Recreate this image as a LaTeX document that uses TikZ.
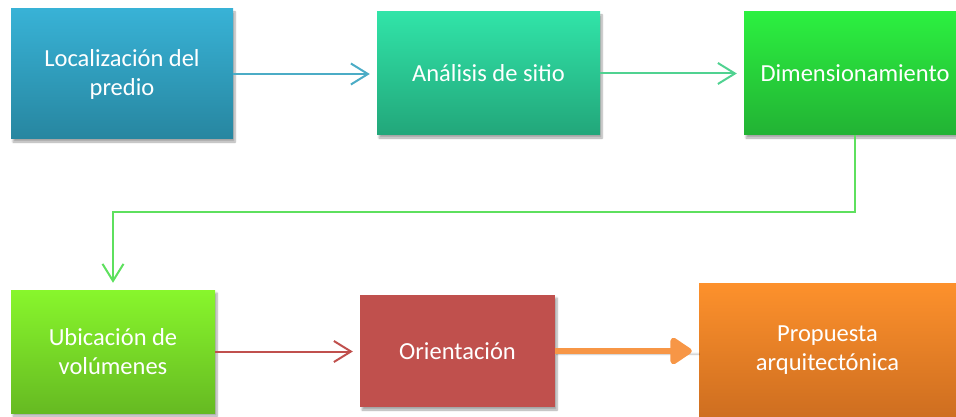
\documentclass[tikz,border=0pt]{standalone}
\usepackage{fontspec}
\setmainfont{Carlito}
\usetikzlibrary{arrows.meta,shadows.blur}
\definecolor{cA1}{RGB}{56,178,214}\definecolor{cA2}{RGB}{39,134,160}
\definecolor{cB1}{RGB}{49,228,168}\definecolor{cB2}{RGB}{34,166,122}
\definecolor{cC1}{RGB}{44,240,64}\definecolor{cC2}{RGB}{34,178,52}
\definecolor{cD1}{RGB}{136,246,44}\definecolor{cD2}{RGB}{102,186,34}
\definecolor{cE}{RGB}{192,80,77}
\definecolor{cF1}{RGB}{253,145,44}\definecolor{cF2}{RGB}{206,110,32}
\definecolor{lnA}{RGB}{75,172,198}
\definecolor{lnB}{RGB}{80,210,145}
\definecolor{lnC}{RGB}{94,224,94}
\definecolor{lnF}{RGB}{247,150,70}
\tikzset{
  box/.style={rectangle, inner sep=0pt, align=center, text=white,
    font=\fontsize{24.5}{29}\selectfont,
    blur shadow={shadow xshift=2pt, shadow yshift=-3pt, shadow blur steps=6, shadow opacity=35}},
  conn/.style={line width=2pt, shorten >=7pt,
    -{Straight Barb[length=17pt,width=21pt,line width=2pt]}},
}
\begin{document}
\begin{tikzpicture}[x=1pt,y=-1pt]
\useasboundingbox (0,0) rectangle (956,417);
\node[box, top color=cA1, bottom color=cA2, minimum width=222pt, minimum height=130pt] (b1) at (122,74) {Localización del\\predio};
\node[box, top color=cB1, bottom color=cB2, minimum width=223pt, minimum height=123pt] (b2) at (488.5,73.5) {Análisis de sitio};
\node[box, top color=cC1, bottom color=cC2, minimum width=222pt, minimum height=123pt] (b3) at (855,73.5) {Dimensionamiento};
\node[box, top color=cD1, bottom color=cD2, minimum width=204pt, minimum height=123pt] (b4) at (113,351.5) {Ubicación de\\volúmenes};
\node[box, fill=cE, minimum width=195pt, minimum height=112pt] (b5) at (457.5,351) {Orientación};
\node[box, top color=cF1, bottom color=cF2, minimum width=257pt, minimum height=134pt] (b6) at (827.5,350) {Propuesta\\arquitectónica};
\draw[conn, lnA] (b1.east) -- (b1.east -| b2.west);
\draw[conn, lnB] (b2.east) -- (b2.east -| b3.west);
\draw[conn, lnC] (b3.south) -- ++(0,77) -| (b4.north);
\draw[conn, cE] (b4.east) -- (b4.east -| b5.west);
\draw[lnF, line width=6pt, shorten >=7pt, line join=round,
  -{Triangle[round, length=24pt, width=30pt]},
  blur shadow={shadow xshift=1pt, shadow yshift=-3pt, shadow blur steps=5, shadow opacity=30}]
  (b5.east) -- (b5.east -| b6.west);
\end{tikzpicture}
\end{document}
